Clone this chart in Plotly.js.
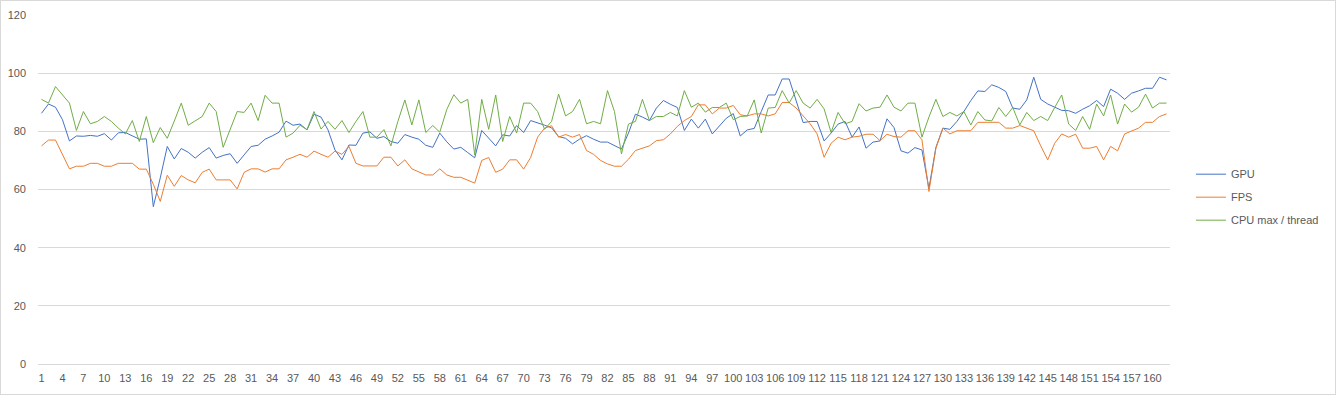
<!DOCTYPE html>
<html>
<head>
<meta charset="utf-8">
<script src="https://cdn.plot.ly/plotly-3.0.1.min.js"></script>
<style>
html,body{margin:0;padding:0;background:#fff;}
#wrap{position:relative;width:1336px;height:395px;}
#chart{position:absolute;left:0;top:0;width:1336px;height:395px;}
#frame{position:absolute;left:0;top:0;width:1334px;height:393px;border:1px solid #d9d9d9;pointer-events:none;}
</style>
</head>
<body>
<div id="wrap"><div id="chart"></div><div id="frame"></div></div>
<script>
const gpu = [86.2,89.4,88.3,84,76.7,78.4,78.3,78.6,78.3,79.2,77,79.5,79.6,78.4,77.3,77.4,54.1,64,74.8,70.5,
74.1,72.8,70.8,72.8,74.4,70.8,71.7,72.3,69,71.9,74.8,75.2,77.3,78.4,79.7,83.5,82.1,82.5,80.5,85.9,
84.9,80.5,73.6,70.2,75.3,75.2,79.4,79.8,77.6,78.2,76.5,75.9,78.9,78,77.3,75.2,74.5,79.4,76.4,73.9,
74.5,72.7,70.9,80.3,77.6,75,78.8,78.4,82,79.6,83.7,83,82.1,81.2,78.2,77.6,75.7,77.3,78.5,77.3,
76.3,76.3,75,73.9,79.4,85.9,84.9,83.7,88,90.6,89.3,88.2,80.3,84.2,81.1,84.2,79.1,81.7,84.5,86.1,
78.4,80.5,81,86.8,92.5,92.5,98,98,90.8,83,83.4,83.4,76.7,79.4,82.5,83.4,78,81.5,74.2,76.3,
76.7,84.3,81.3,73.3,72.5,74.4,73.6,60.4,74.5,81.1,80.7,83.4,86.8,90.6,93.9,93.7,96,95.1,93.7,88,
87.6,90.8,98.6,91,89.4,88.2,87.2,87.1,86.2,87.6,88.8,90.6,88.5,94.5,93.1,91,93.1,93.9,94.8,94.8,98.6,97.7];

const fps = [75,77,77,72.1,67.1,68,68,69,69,68,68,69,69,69,67,67,61.8,55.9,64.9,61.1,
64.8,63.3,62.3,65.9,67,63.3,63.3,63.3,60.2,65.9,67.1,67.1,66,67.1,67.1,70.2,71.1,72.1,71.1,73.2,
72.1,71.1,73.2,72.1,74.8,69,68.1,68.1,68.1,71.1,71.1,68.1,70.2,67.1,66,65,65,67.1,65,64.2,
64.2,63.2,62.2,70,71,65.9,67,70.2,70.2,67,71,78,81.1,81.9,78,78.9,78,78.9,73.4,72.1,
70,68.8,68,68,70.4,73.4,74.3,75,76.8,77.1,79.1,81.7,83.7,85.1,89.1,89.1,86,88,88,88.9,
85.7,85.3,86,86,85.3,86,89.9,89.9,88,85.1,82.6,79.1,71.1,75.9,78,77.1,78,78.3,79,79,
76.8,79,78.2,78,80.2,80.2,77.1,59.3,74.2,81.1,79.1,80.2,80.2,80.2,83.1,83.1,83.1,83.1,81.1,81.1,
82,81.1,80.2,75,70.2,75.9,79.1,78,79,74.2,74.2,74.8,70.2,74.8,73.3,79.1,80.2,81.1,83.1,83.1,85.1,86];

const cpu = [91,89.7,95.4,92.5,89.7,80.3,86.8,82.6,83.4,85.1,83.4,81.1,79.1,83.7,76.5,85.1,76.1,81.3,77.6,83.5,
89.7,82.1,83.7,85.1,89.7,86.8,74.5,80.7,86.8,86.5,89.7,83.7,92.4,89.7,89.7,78,79.4,82.1,80.6,86.8,
80.8,83.4,80.7,83.7,79.6,83.4,86.8,78,78,80.6,75,83.4,90.8,82.2,90.8,79.6,82,79.7,87.5,92.6,
89.7,91,71.9,91,80.7,92.5,76.5,85.1,79.4,89.7,89.7,86.8,80.7,83.4,92.8,85.3,86.8,91,82.6,83.4,
82.6,94,86.8,72.2,82.5,83.4,91,83.7,85.1,85.1,86.5,85.3,94,88.3,89.7,86.6,88.2,88.2,89.7,84,
85.1,85.3,90.8,79.4,88,88.2,94,89.7,94,89.7,88,91,87.7,79.6,86.5,82.6,83.4,89.5,87,88,
88.3,92.5,88.3,87,89.7,89.7,78,84.9,91,85.1,86.5,85.3,86.8,82.2,86.8,83.9,83.6,88.2,85.1,88.2,
82.2,86.5,83.7,85.1,83.7,88.2,92.5,82.5,80.3,85.1,80.7,89.4,85.3,92.5,82.5,89.4,86.6,88.3,92.8,88,89.7,89.7];

const categories = gpu.map((_, i) => i + 1);
const tickLabels = categories.filter((c) => (c - 1) % 3 === 0);
const seriesNames = ['GPU', 'FPS', 'CPU max / thread'];
const seriesColors = ['#4472C4', '#ED7D31', '#70AD47'];
const seriesData = [gpu, fps, cpu];

const traces = seriesData.map((ys, k) => ({
  type: 'scatter', mode: 'lines', x: categories, y: ys, name: seriesNames[k],
  legendgroup: 'g' + k,
  line: {color: seriesColors[k], width: 1}, hoverinfo: 'skip'
}));

const font = {family: 'Liberation Sans, Arial, sans-serif', size: 11, color: '#595959'};
const layout = {
  width: 1336, height: 395,
  margin: {l: 38, r: 154, t: 15, b: 31, pad: 0},
  paper_bgcolor: '#ffffff', plot_bgcolor: '#ffffff',
  font: font,
  showlegend: true,
  legend: {x: 1.0185, xanchor: 'left', y: 0.478, yanchor: 'middle', font: font,
           tracegroupgap: 4, bgcolor: 'rgba(0,0,0,0)'},
  xaxis: {type: 'linear', range: [0.5, categories.length + 0.5], tickmode: 'array',
          tickvals: tickLabels, ticktext: tickLabels.map(String),
          showgrid: false, zeroline: false, showline: false, ticks: '', tickfont: font,
          tickangle: 0, ticklabelstandoff: 6, fixedrange: true},
  yaxis: {range: [0, 120], dtick: 20, showgrid: true, gridcolor: '#d9d9d9', gridwidth: 1,
          zeroline: true, zerolinecolor: '#d9d9d9', zerolinewidth: 1,
          showline: false, ticks: '', tickfont: font, ticklabelstandoff: 11, fixedrange: true}
};
Plotly.newPlot('chart', traces, layout, {displayModeBar: false, staticPlot: true});
</script>
</body>
</html>
